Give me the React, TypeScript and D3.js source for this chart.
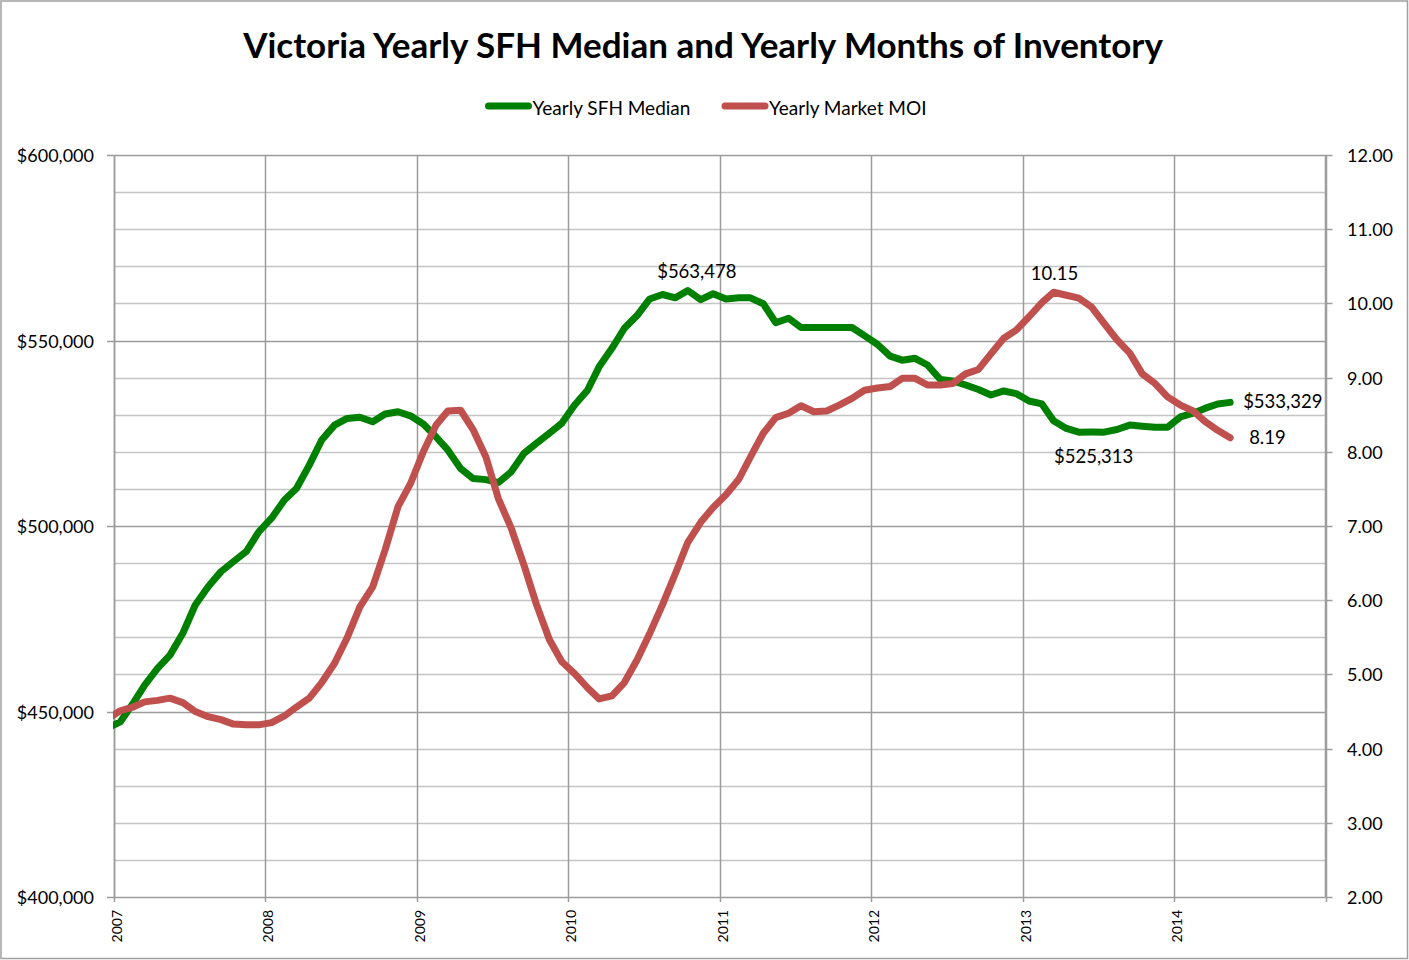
import { useEffect } from "react";
import * as d3 from "d3";

// monthly values, Dec 2006 .. May 2014 (plotted mid-month)
const FIRST_MONTH = new Date(2006, 11, 16);

const sfhMedian = [
  445500, 447200, 452200, 457100, 461600, 465200, 471100, 478700, 483600, 487700,
  490400, 493100, 498400, 502100, 507000, 510100, 516400, 523200, 527200, 529000,
  529300, 528100, 530200, 530800, 529700, 527500, 524000, 520500, 515500, 512800,
  512500, 511700, 514600, 519600, 522300, 525000, 527700, 532600, 536600, 542900,
  547900, 553300, 556800, 561200, 562400, 561500, 563478, 561000, 562600, 561200,
  561500, 561500, 559900, 554800, 556000, 553500, 553500, 553500, 553500, 553500,
  551300, 549000, 545800, 544700, 545200, 543400, 539500, 539100, 538000, 536800,
  535300, 536400, 535700, 533700, 532900, 528400, 526300, 525300, 525313, 525300,
  526000, 527200, 526900, 526600, 526600, 529400, 530400, 531700, 532900, 533329,
];

const marketMoi = [
  4.40, 4.51, 4.56, 4.63, 4.65, 4.68, 4.62, 4.50, 4.43, 4.39,
  4.33, 4.32, 4.32, 4.35, 4.44, 4.56, 4.68, 4.89, 5.15, 5.49,
  5.91, 6.18, 6.68, 7.26, 7.57, 8.00, 8.36, 8.55, 8.56, 8.30,
  7.93, 7.37, 6.97, 6.47, 5.94, 5.47, 5.17, 5.01, 4.82, 4.67,
  4.71, 4.89, 5.20, 5.55, 5.94, 6.36, 6.78, 7.05, 7.25, 7.42,
  7.63, 7.93, 8.25, 8.46, 8.52, 8.62, 8.54, 8.55, 8.63, 8.72,
  8.83, 8.86, 8.88, 8.99, 8.99, 8.90, 8.90, 8.92, 9.05, 9.11,
  9.32, 9.53, 9.64, 9.82, 10.01, 10.15, 10.11, 10.07, 9.95, 9.73,
  9.51, 9.33, 9.05, 8.92, 8.74, 8.63, 8.55, 8.41, 8.29, 8.19,
];

const seriesNames = ["Yearly SFH Median", "Yearly Market MOI"];
const seriesColors = ["#008000", "#C0504D"];
const leftTicks = [400000, 450000, 500000, 550000, 600000];
const rightTicks = [2, 3, 4, 5, 6, 7, 8, 9, 10, 11, 12];
const yearTicks = [2007, 2008, 2009, 2010, 2011, 2012, 2013, 2014, 2015];

// labelled points: series index, point index, placement
const dataLabels = [
  { s: 0, i: 46, pos: "above" },
  { s: 0, i: 78, pos: "below" },
  { s: 0, i: 89, pos: "right" },
  { s: 1, i: 75, pos: "above" },
  { s: 1, i: 89, pos: "right" },
];

const W = 1409;
const H = 960;
const L = 114;
const R = 1325.5;
const T = 155;
const B = 897;
const FONT = "Lato, 'Open Sans', sans-serif";

export default function App() {
  useEffect(() => {
    document.body.style.margin = "0";
  }, []);

  const dates = sfhMedian.map((_, i) => d3.timeMonth.offset(FIRST_MONTH, i));
  const x = d3.scaleTime().domain([new Date(2007, 0, 1), new Date(2015, 0, 1)]).range([L, R]);
  const yL = d3.scaleLinear().domain([400000, 600000]).range([B, T]);
  const yR = d3.scaleLinear().domain([2, 12]).range([B, T]);

  const fmtMoney = d3.format("$,.0f");
  const fmtMoi = d3.format(".2f");

  const lineL = d3.line<number>().x((_, i) => x(dates[i])).y((d) => yL(d));
  const lineR = d3.line<number>().x((_, i) => x(dates[i])).y((d) => yR(d));

  const minor = yL.ticks(20).filter((v) => v % 50000 !== 0);

  return (
    <svg width={W} height={H} style={{ display: "block", background: "#fff" }} fontFamily={FONT}>
      <defs>
        <clipPath id="plot-clip">
          <rect x={L - 1} y={0} width={R - L + 2} height={H} />
        </clipPath>
      </defs>
      <rect x={1} y={1} width={W - 2.5} height={H - 2.5} fill="#fff" stroke="#a0a0a0" strokeWidth={1.5} />

      <text x={703} y={58} textAnchor="middle" fontSize={35} fontWeight="bold" fill="#000">
        Victoria Yearly SFH Median and Yearly Months of Inventory
      </text>

      {/* legend */}
      {seriesNames.map((name, k) => {
        const lx = k === 0 ? 488.5 : 725;
        return (
          <g key={name}>
            <line x1={lx} x2={lx + 40} y1={106} y2={106} stroke={seriesColors[k]} strokeWidth={7} strokeLinecap="round" />
            <text x={lx + 44} y={115} fontSize={19} fill="#000">{name}</text>
          </g>
        );
      })}

      {/* gridlines */}
      {minor.map((v) => (
        <line key={"mn" + v} x1={L} x2={R} y1={Math.round(yL(v)) + 0.5} y2={Math.round(yL(v)) + 0.5} stroke="#c4c4c4" strokeWidth={1.3} />
      ))}
      {leftTicks.map((v) => (
        <line key={"mj" + v} x1={L - 7} x2={R} y1={Math.round(yL(v)) + 0.5} y2={Math.round(yL(v)) + 0.5} stroke="#9c9c9c" strokeWidth={1.5} />
      ))}
      {yearTicks.map((yr) => {
        const xx = Math.round(x(new Date(yr, 0, 1))) + 0.5;
        return <line key={"yr" + yr} x1={xx} x2={xx} y1={T} y2={B + 5} stroke="#9c9c9c" strokeWidth={1.5} />;
      })}
      {rightTicks.map((v) => (
        <line key={"rt" + v} x1={R} x2={R + 7} y1={Math.round(yR(v)) + 0.5} y2={Math.round(yR(v)) + 0.5} stroke="#9c9c9c" strokeWidth={1.5} />
      ))}
      <line x1={L + 0.5} x2={L + 0.5} y1={T} y2={B} stroke="#9c9c9c" strokeWidth={1.5} />
      <line x1={R} x2={R} y1={T} y2={B} stroke="#9c9c9c" strokeWidth={1.5} />

      {/* axis labels */}
      {leftTicks.map((v) => (
        <text key={"ll" + v} x={94} y={yL(v) + 7} textAnchor="end" fontSize={18} fill="#000">{fmtMoney(v)}</text>
      ))}
      {rightTicks.map((v) => (
        <text key={"rl" + v} x={1347} y={yR(v) + 7} fontSize={18} fill="#000">{fmtMoi(v)}</text>
      ))}
      {yearTicks.slice(0, -1).map((yr) => {
        const xx = x(new Date(yr, 0, 1)) + 8;
        return (
          <text key={"xl" + yr} transform={`translate(${xx},910) rotate(-90)`} textAnchor="end" fontSize={14} fill="#000">
            {yr}
          </text>
        );
      })}

      {/* series */}
      <g clipPath="url(#plot-clip)" fill="none" strokeWidth={7} strokeLinejoin="round" strokeLinecap="round">
        <path d={lineL(sfhMedian) ?? ""} stroke={seriesColors[0]} />
        <path d={lineR(marketMoi) ?? ""} stroke={seriesColors[1]} />
      </g>

      {/* data labels */}
      {dataLabels.map(({ s, i, pos }) => {
        const px = x(dates[i]);
        const py = s === 0 ? yL(sfhMedian[i]) : yR(marketMoi[i]);
        const txt = s === 0 ? fmtMoney(sfhMedian[i]) : fmtMoi(marketMoi[i]);
        if (pos === "above")
          return <text key={s + "-" + i} x={px + (s === 0 ? 9 : 1)} y={py - 12} textAnchor="middle" fontSize={18.5} fill="#000">{txt}</text>;
        if (pos === "below")
          return <text key={s + "-" + i} x={px + 2} y={py + 31} textAnchor="middle" fontSize={18.5} fill="#000">{txt}</text>;
        return <text key={s + "-" + i} x={px + (s === 0 ? 13 : 19)} y={py + 6} fontSize={18.5} fill="#000">{txt}</text>;
      })}
    </svg>
  );
}
